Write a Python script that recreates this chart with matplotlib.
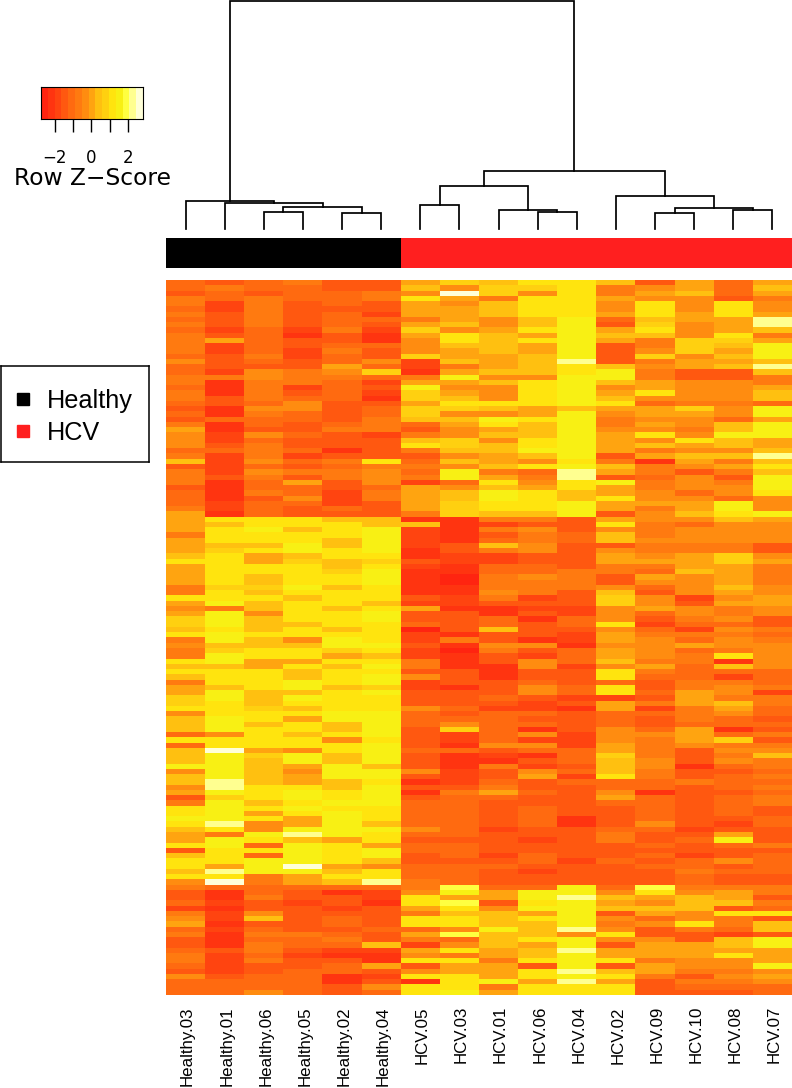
import numpy as np
import matplotlib
matplotlib.use('Agg')
import matplotlib.pyplot as plt
from matplotlib.colors import ListedColormap
from matplotlib.lines import Line2D
from matplotlib.transforms import ScaledTranslation

samples = ['Healthy.03', 'Healthy.01', 'Healthy.06', 'Healthy.05', 'Healthy.02', 'Healthy.04',
           'HCV.05', 'HCV.03', 'HCV.01', 'HCV.06', 'HCV.04', 'HCV.02', 'HCV.09', 'HCV.10', 'HCV.08', 'HCV.07']
groups = [0] * 6 + [1] * 10
group_names = ['Healthy', 'HCV']
group_colors = ['#000000', '#FF1F1F']

# 15 level palette, close to heat.colors(15)
heat = ['#FF2410', '#FF3410', '#FF4410', '#FF5810', '#FF6A10', '#FF7A10', '#FF8C10', '#FFA410',
        '#FFC010', '#FFD010', '#FFE40E', '#F8F014', '#FFFF40', '#FFFF90', '#FFFFD8']
z_min, z_max = -2.75, 2.83

# one string per row, one hex digit per column = colour level
levels = [
    '434533798aa83747', '4544338699a56748', '3434456e96a57847', '545445a75aa76635',
    '525343768aa6a6a6', '425333778aa6a6a6', '535342778aa7a7a7', '4353445768b4877d',
    '5353437868b3967d', '424252967ab7a678', '5341317a87b886a5', '5743316a8ab75997',
    '5243446887b3598b', '5242536787b3697b', '4352439778b3968b', '6343462878d35778',
    '4333742578a8678d', '4265691788ab5338', '5565545b66bb5335', '515542778ab87665',
    '415243b66ab67667', '515342976ab7a668', '535441986ab86668', '4346337aaaba4554',
    '316634998787796b', '4154349667b6776b', '34443588bab56647', '51434547a8b5768b',
    '7133553678b6658b', '6264325688b7a6bb', '624333896ab76a87', '635333a98ab78787',
    '445413588bb75668', '5252333678b3788d', '82645a4876a51758', '324345568ab8567a',
    '5265564b54d75358', '5353565b75d3463b', '51473624a6ab565b', '3144347687a7566b',
    '41542578ba87646a', '41362578ba8a6646', '42442379aab777b6', '52434379aab757b6',
    '7143335988b368ab', '7aaa881155376687', '78aaa881233a5466', '7ab8ab2156365666',
    '5aaaab2135485666', '7aaa8b2145486666', '788b8b2386335553', '79abab1356365553',
    '8a78aa1223376796', 'aa79893223377797', '7aaa8a2144355775', '7aaa9b1144554875',
    '7a8aab1056537675', '7a8aab1055536675', '599b8a1155564686', '5a8aaa1165383676',
    'aaa8aa3252396267', '7b8aa82233396377', '658a8a7112267656', '7b6aab3313264656',
    '9b8aab3341463563', '9b88aa43434a2443', '8a8a8a0383364265', 'abaaaa2133275554',
    '5b86ba2531276465', '6888bb3166166766', '59aa9a2053476456', '5baa7821324765a6',
    'ab77aa5136485516', '887a8b5116267486', 'aaa8aa33133a5444', '8aa8ab63133a4424',
    '5aabab2334343554', '78ab8921364a3565', '7b88ab33364a4762', '9b8baa3343223755',
    '9a8aaa3332375785', 'aa98aa6422172574', '6aaabb4344344564', '8ba7bb4443343543',
    '8b8a8b4644343444', '8baa8b3941364713', '46a8ab3246266745', 'aaaa6a3242265793',
    '4aaaab3166275655', '8e76ab4434475366', '8b9b8b3121495358', '8b8b8b3113486365',
    'bb87b83152386145', '6b86bb6236485334', '8b87bb32372a5345', '8d878a1243444544',
    '6daa8b3353344345', '7babab1574361334', '39abab3443374345', '5b8abb4433344345',
    'ababaa4434334343', 'ab7aba4434334343', 'bba7ba4434134334', 'ad67b84434136324',
    '8a6bbb6423344233', '75bdba4433353373', '7ba87a33323534b3', 'ab4ba74433334345',
    '3aabab4433333333', '8a4bab3424334234', 'aabba83334243464', 'a7be764443334434',
    '8dbb8a4432333544', 'aa57aa4433333433', '6e578d5433333433', '5444445c44b4c555',
    '3143126b7bb6a675', '315332a77bd87873', '423231ac3ab76885', '2133237a6bb88834',
    '5263335887b376aa', '628343aa8ab64653', '713343aa88b56a58', '42433446b8d63548',
    '5155437c886a3323', '314453548ab6638b', '3154482687b3778b', '4353227a78d77777',
    '5242116578b777a7', '525331aa5aba5667', '4233473773b3766b', '323443677ad87556',
    '634412aa7aba5367', '4444131ab7d73556', '444436aa5aaa3444', '446434ab7aaa3334',
]

# column dendrogram: negative = leaf index, positive = earlier merge (1 based)
merge_left = [-3, -5, 1, -2, -1, -10, -9, -7, 8, -13, -15, 10, -12, 9, 5]
merge_right = [-4, -6, 2, 3, 4, -11, 6, -8, 7, -14, -16, 11, 12, 13, 14]
merge_height = [17, 16, 22.5, 26, 28.5, 17, 19, 24, 43, 16, 19, 21, 33, 58, 228]


def px_axes(fig, left, top, right, bottom):
    w, h = fig.get_size_inches() * fig.dpi
    return fig.add_axes([left / w, 1 - bottom / h, (right - left) / w, (bottom - top) / h])


plt.rcParams['font.family'] = ['DejaVu Sans']
fig = plt.figure(figsize=(7.92, 10.88), dpi=100)

# heatmap
z = np.array([[int(c, 16) for c in row] for row in levels])
ax = px_axes(fig, 166, 280, 792, 995)
ax.imshow(z, cmap=ListedColormap(heat), vmin=-0.5, vmax=14.5, aspect='auto', interpolation='nearest')
ax.set_yticks([])
ax.set_xticks(range(len(samples)))
ax.set_xticklabels(samples, rotation=90, fontsize=12.2, family='Liberation Sans', va='top', ha='center')
ax.tick_params(axis='x', length=0, pad=8)
for label in ax.get_xticklabels():
    label.set_transform(label.get_transform() + ScaledTranslation(2 / 100, 0, fig.dpi_scale_trans))
for s in ax.spines.values():
    s.set_visible(False)

# sample colour bar
ax = px_axes(fig, 166, 238, 792, 268)
ax.imshow([groups], cmap=ListedColormap(group_colors), aspect='auto', interpolation='nearest')
ax.axis('off')

# dendrogram
ax = px_axes(fig, 166, 0, 792, 229)
ax.set_xlim(-0.5, len(samples) - 0.5)
ax.set_ylim(0, 229)
ax.axis('off')
pos = {}
hts = {}
for i, (a, b, h) in enumerate(zip(merge_left, merge_right, merge_height)):
    xa = -a - 1 if a < 0 else pos[a]
    xb = -b - 1 if b < 0 else pos[b]
    ya = 0 if a < 0 else hts[a]
    yb = 0 if b < 0 else hts[b]
    ax.plot([xa, xa, xb, xb], [ya, h, h, yb], color='black', lw=1.25, solid_joinstyle='miter', clip_on=False)
    pos[i + 1] = (xa + xb) / 2
    hts[i + 1] = h

# colour key
ax = px_axes(fig, 41, 87, 143, 119)
edges = np.linspace(z_min, z_max, len(heat) + 1)
ax.pcolormesh(edges, [0, 1], [np.arange(len(heat))], cmap=ListedColormap(heat), vmin=-0.5, vmax=14.5)
ax.set_yticks([])
ax.set_xticks([-2, -1, 0, 1, 2])
ax.set_xticklabels(['\u22122', '', '0', '', '2'], fontsize=12)
ax.tick_params(axis='x', length=9, width=1, pad=12.5)
ax.set_xlabel('Row Z\u2212Score', fontsize=16.8, labelpad=0)

# legend, box drawn by its own axes
ax = px_axes(fig, 1, 366, 149, 462)
ax.set_xticks([])
ax.set_yticks([])
for s in ax.spines.values():
    s.set_linewidth(1.1)
handles = [Line2D([], [], marker='s', ls='none', color=c, markersize=8.5) for c in group_colors]
ax.legend(handles, group_names, loc='upper left', bbox_to_anchor=(0, 0.89), prop={'family': 'Liberation Sans', 'size': 18.2},
          frameon=False, borderaxespad=0, borderpad=0.5, labelspacing=0.3, handlelength=0.75, handletextpad=0.55)

plt.savefig('out.png', dpi=100)
plt.close()
